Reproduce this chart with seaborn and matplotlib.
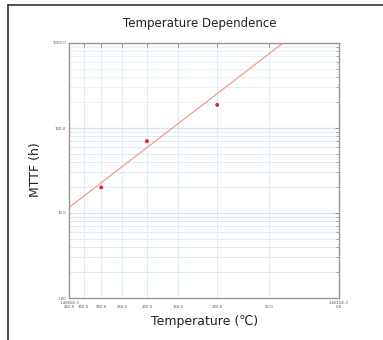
import numpy as np
import pandas as pd
import matplotlib
matplotlib.use("Agg")
import matplotlib.pyplot as plt
from matplotlib.lines import Line2D
from matplotlib.ticker import LogLocator, NullFormatter
import seaborn as sns

# measured points
temp_c = [300.0, 200.0, 100.0]
mttf_h = [20.0, 70.0, 187.0]

# Arrhenius fit line: log10(MTTF) = fit_a + fit_b * (1000 / T[K])
fit_a = -0.602
fit_b = 1.122

# axis ticks
tick_temps = [400.0, 350.0, 300.0, 250.0, 200.0, 150.0, 100.0, 50.0, 0.0]
tick_labels = ["1.4856E-3\n400.0", "\n350.0", "\n300.0", "\n250.0", "\n200.0",
               "\n150.0", "\n100.0", "\n50.0", "3.6610E-3\n0.0"]
y_ticks = [1.0, 10.0, 100.0, 1000.0]
y_labels = ["1.00", "10.0", "100.0", "1000.0"]


def inv_t(t):
    return 1000.0 / (np.asarray(t) + 273.15)


sns.set_style("white")
plt.rcParams['font.family'] = ['DejaVu Sans']

fig = plt.figure(figsize=(3.83, 3.40), dpi=100)
ax = fig.add_axes([69 / 383, 1 - 298 / 340, 270 / 383, 255 / 340])

df = pd.DataFrame({"x": inv_t(temp_c), "mttf": mttf_h})
xs = np.linspace(inv_t(400.0), inv_t(0.0), 50)
fit = pd.DataFrame({"x": xs, "mttf": 10 ** (fit_a + fit_b * xs)})

ax.set_yscale("log")
ax.set_xlim(inv_t(400.0), inv_t(0.0))
ax.set_ylim(1, 1000)

# faint grid
for t in tick_temps[1:-1]:
    ax.axvline(inv_t(t), color="#ddeef6", lw=0.8, zorder=0)
for dec in [1, 10, 100]:
    for m in range(2, 10):
        ax.axhline(dec * m, color="#e6f2f8" if dec == 100 else "#dcecf4",
                   lw=0.7, zorder=0)
for v in [10, 100]:
    ax.axhline(v, color="#cfe5ef", lw=0.9, zorder=0)

sns.lineplot(data=fit, x="x", y="mttf", ax=ax, color="#f29a8e", lw=0.9, zorder=2)
sns.scatterplot(data=df, x="x", y="mttf", ax=ax, color="#e8242a", s=8,
                edgecolor="none", zorder=3)

ax.set_xticks(inv_t(tick_temps))
ax.set_xticklabels(tick_labels)
ax.set_yticks(y_ticks)
ax.set_yticklabels(y_labels)
ax.yaxis.set_minor_locator(LogLocator(base=10, subs=np.arange(2, 10)))
ax.yaxis.set_minor_formatter(NullFormatter())
ax.tick_params(which="both", direction="in", top=True, right=True,
               color="#8a7f78", labelsize=2.8, labelcolor="#555555", pad=2)
ax.tick_params(which="major", length=3, width=0.6)
ax.tick_params(which="minor", length=2, width=0.5)
for sp in ax.spines.values():
    sp.set_color("#a0958e")
    sp.set_linewidth(1.0)

ax.set_xlabel("")
ax.set_ylabel("")
fig.text(205 / 383, 1 - 322 / 340, "Temperature (℃)", ha="center", va="center",
         fontsize=9, color="#222222")
fig.text(36 / 383, 1 - 170 / 340, "MTTF (h)", ha="center", va="center",
         rotation=90, fontsize=9, color="#222222")
fig.text(200 / 383, 1 - 24 / 340, "Temperature Dependence", ha="center",
         va="center", fontsize=8.5, color="#222222")

# outer frame of the scanned figure
fig.add_artist(Line2D([8 / 383, 1], [1 - 5 / 340, 1 - 5 / 340], color="#333333", lw=1.2))
fig.add_artist(Line2D([8 / 383, 8 / 383], [0, 1 - 5 / 340], color="#333333", lw=1.2))

fig.savefig("out.png", dpi=100)
